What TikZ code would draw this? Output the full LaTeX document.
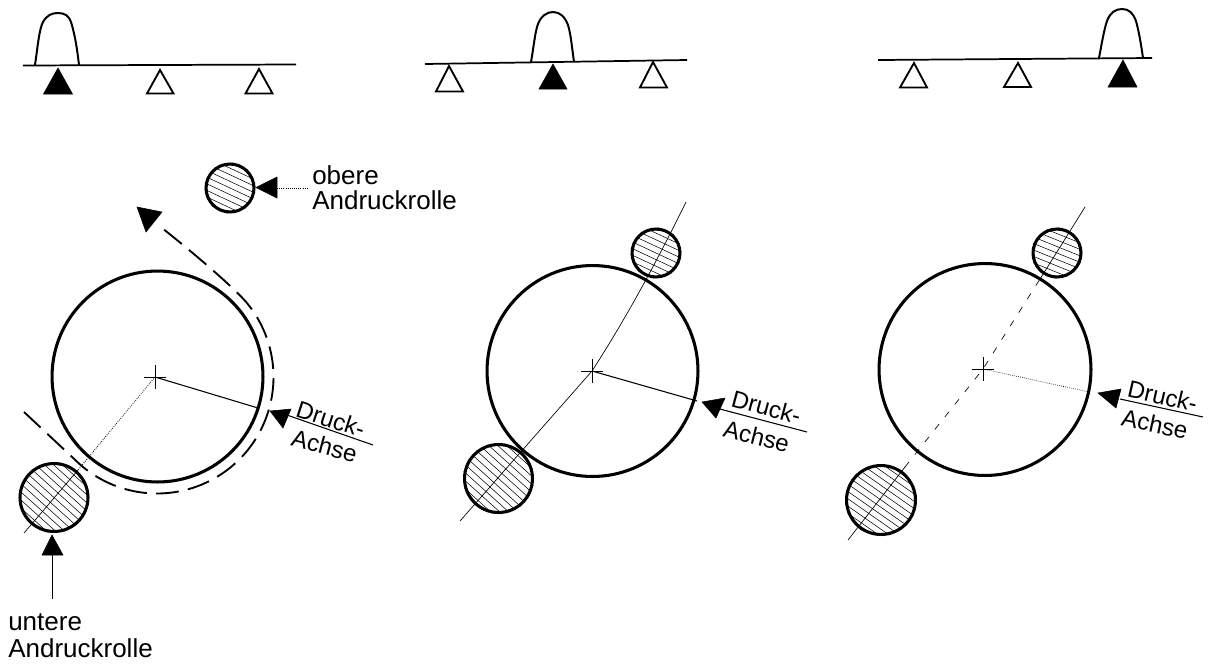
\documentclass[tikz,border=0pt]{standalone}
\usepackage{fontspec}
\setmainfont{Liberation Sans}
\tikzset{
  x=0.75pt,y=-0.75pt,
  bigroll/.style={circle,draw,line width=2.3pt,minimum size=#1*0.75pt-2.3pt,inner sep=0pt},
  thinline/.style={line width=0.6pt},
  dashpath/.style={line width=1.4pt,dash pattern=on 17pt off 7pt},
  solidtri/.style={fill=black,draw=black,line width=0.4pt},
  opentri/.style={draw=black,line width=1.4pt,fill=white,line join=miter},
  beam/.style={line width=1.3pt},
  bell/.style={line width=1.5pt},
  lab/.style={font=\fontsize{19.5pt}{22pt}\selectfont,inner sep=0pt,align=left,anchor=west},
  dlab/.style={font=\fontsize{18pt}{20pt}\selectfont,inner sep=0pt,anchor=west}
}
% name, cx, cy, r, hatch angle
\newcommand{\myroller}[5]{%
  \begin{scope}
    \clip (#2,#3) circle[radius=#4];
    \begin{scope}[shift={(#2,#3)},rotate=#5]
      \foreach \d in {-48,-42,...,48}{\draw[line width=0.4pt] (-60,\d) -- (60,\d);}
    \end{scope}
  \end{scope}
  \node[bigroll=#4*2] (#1) at (#2,#3) {};
}
\newcommand{\mycross}[3]{%
  \coordinate (#1) at (#2,#3);
  \draw[line width=0.4pt] (#2-11,#3) -- (#2+11,#3) (#2,#3-12) -- (#2,#3+12);
}
\begin{document}
\begin{tikzpicture}
\useasboundingbox (0,0) rectangle (1212,664);
\fill[white] (0,0) rectangle (1212,664);

% --- beam 1
\draw[beam] (23,65.5) -- (296,64.5);
\draw[bell] (35,65) .. controls (38,45) and (39,30) .. (43,22) .. controls (47,15) and (52,13) .. (58,13) .. controls (65,13) and (69,16) .. (71,22) .. controls (75,35) and (77,48) .. (79,65);
\draw[solidtri] (58,68) -- (72.5,94) -- (43.5,94) -- cycle;
\draw[opentri] (160,70) -- (173.5,93.5) -- (147,93.5) -- cycle;
\draw[opentri] (259,69) -- (272.5,93.5) -- (245.5,93.5) -- cycle;

% --- beam 2
\draw[beam] (425,64) -- (687,60);
\draw[bell] (531,62) .. controls (534,45) and (535,32) .. (538,24) .. controls (541,16) and (547,12) .. (553,12) .. controls (560,12) and (565,17) .. (568,25) .. controls (571,35) and (572,48) .. (574,62);
\draw[opentri] (449,66) -- (463,91.5) -- (436,91.5) -- cycle;
\draw[solidtri] (553,64) -- (567,89) -- (539,89) -- cycle;
\draw[opentri] (653,62) -- (667,87.5) -- (640,87.5) -- cycle;

% --- beam 3
\draw[beam] (878,60) -- (1152,58);
\draw[bell] (1099,58) .. controls (1102,42) and (1104,30) .. (1107,21) .. controls (1110,13) and (1115,9) .. (1122,9) .. controls (1129,9) and (1133,13) .. (1136,21) .. controls (1139,32) and (1141,44) .. (1143,58);
\draw[opentri] (914,63) -- (927,87.5) -- (900,87.5) -- cycle;
\draw[opentri] (1018,63) -- (1031,87) -- (1004,87) -- cycle;
\draw[solidtri] (1123,60) -- (1137,87) -- (1108,87) -- cycle;

% --- left assembly
\mycross{ca}{155}{377}
\node[bigroll=214] (wa) at (157.5,376.5) {};
\myroller{rat}{230}{188}{25.5}{-25}
\myroller{rab}{54}{497.5}{35.5}{-42}
\coordinate (axa) at (24,533);
\coordinate (axam) at (78,470);
\draw[thinline,densely dotted] (ca) -- (axam);
\draw[line width=0.5pt] (axam) -- (axa);
\draw[line width=0.8pt] (ca) -- (258,408);
% dashed film path
\coordinate (fa) at (24,412);
\coordinate (ftip) at (137,207);
\draw[dashpath] (fa) -- plot[smooth,domain=135:-40,samples=50] ({157+116.5*cos(\x)},{377+116.5*sin(\x)}) .. controls (232,286) and (195,254) .. (157,224);
\filldraw[solidtri] (ftip) -- (162,212) -- (146,232) -- cycle;
% upper roller leader
\coordinate (uh) at (256,187.5);
\filldraw[solidtri] (uh) -- (277,177) -- (277,198) -- cycle;
\draw[thinline,densely dotted] (277,188) -- (308,188);
\node[lab] (uo) at (312,175) {obere};
\node[lab] (ua) at (312,200) {Andruckrolle};
% lower roller leader
\coordinate (lh) at (52,535);
\filldraw[solidtri] (lh) -- (63,555) -- (42,555) -- cycle;
\draw[line width=0.7pt] (52,555) -- (52,599);
\node[lab] (lu) at (8,622) {untere};
\node[lab] (la) at (8,648) {Andruckrolle};
% Druck-Achse left
\coordinate (da) at (270,411);
\filldraw[solidtri] (da) -- (291,409) -- (283,428) -- cycle;
\draw[line width=0.8pt] (284,414) -- (373,445);
\node[dlab,rotate=-18] (dra) at (297,408) {Druck-};
\node[dlab,rotate=-15] (aca) at (292,437) {Achse};

% --- middle assembly
\mycross{cb}{592}{371}
\node[bigroll=214] (wb) at (592.5,371) {};
\myroller{rbt}{656}{253}{25.5}{-25}
\myroller{rbb}{498.5}{478.5}{35.5}{-42}
\draw[line width=0.5pt] (460,521) -- (cb) .. controls (625,320) and (655,265) .. (686,202);
\draw[line width=0.8pt] (cb) -- (697,401);
\coordinate (db) at (702,402);
\filldraw[solidtri] (db) -- (725,398) -- (716,418) -- cycle;
\draw[line width=0.8pt] (716,408) -- (807,432);
\node[dlab,rotate=-15] (drb) at (732,398) {Druck-};
\node[dlab,rotate=-14] (acb) at (724,428) {Achse};

% --- right assembly
\mycross{cc}{983}{369}
\node[bigroll=215] (wc) at (985,369.5) {};
\myroller{rct}{1057}{253}{25.5}{-22}
\myroller{rcb}{881}{500}{36}{-35}
\coordinate (axc) at (848,540);
\coordinate (axcl) at (905,467);
\coordinate (axcu) at (1040,279);
\coordinate (axct) at (1085,207);
\draw[line width=0.5pt] (axc) -- (axcl) (axcu) -- (axct);
\draw[line width=0.5pt,dash pattern=on 5pt off 7pt] (axcl) -- (cc) -- (axcu);
\draw[line width=0.5pt,densely dotted] (cc) -- (1089,392);
\coordinate (dc) at (1098,393);
\filldraw[solidtri] (dc) -- (1121,389) -- (1116,408) -- cycle;
\draw[line width=0.8pt] (1120,399) -- (1203,417);
\node[dlab,rotate=-13] (drc) at (1128,388) {Druck-};
\node[dlab,rotate=-12] (acc) at (1122,417) {Achse};
\end{tikzpicture}
\end{document}
